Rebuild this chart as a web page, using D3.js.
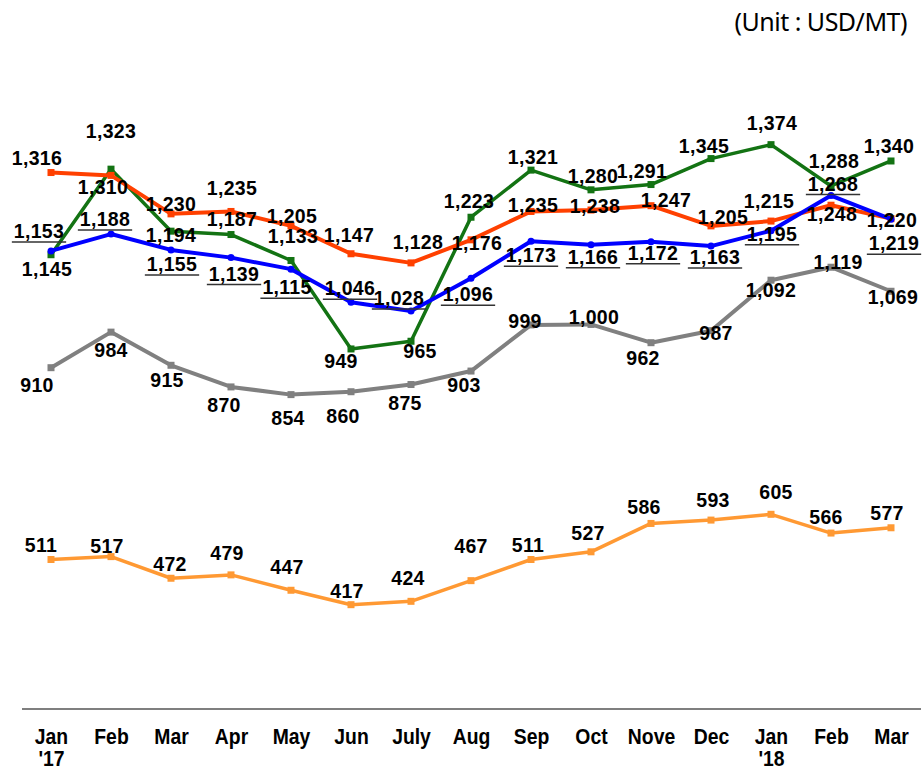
<!DOCTYPE html>
<html>
<head>
<meta charset="utf-8">
<script src="https://cdn.jsdelivr.net/npm/d3@7/dist/d3.min.js"></script>
<style>
  body { margin: 0; background: #fff; }
  .lbl { font-family: "Liberation Sans", Arial, sans-serif; font-weight: bold; font-size: 19.5px; letter-spacing: 0.3px; fill: #000; }
  .tick { font-family: "Liberation Sans", Arial, sans-serif; font-weight: bold; font-size: 22px; fill: #000; }
  .unit { font-family: "Noto Sans", "Open Sans", sans-serif; font-size: 25px; letter-spacing: -0.5px; fill: #000; }
</style>
</head>
<body>
<svg id="chart" width="923" height="770"></svg>
<script>
// months on the x axis
var months = ["Jan", "Feb", "Mar", "Apr", "May", "Jun", "July", "Aug", "Sep", "Oct", "Nove", "Dec", "Jan", "Feb", "Mar"];
var years = ["'17", "", "", "", "", "", "", "", "", "", "", "", "'18", "", ""];

// values, USD/MT
var redVals    = [1316, 1310, 1230, 1235, 1205, 1147, 1128, 1176, 1235, 1238, 1247, 1205, 1215, 1248, 1220];
var blueVals   = [1153, 1188, 1155, 1139, 1115, 1046, 1028, 1096, 1173, 1166, 1172, 1163, 1195, 1268, 1219];
var greenVals  = [1145, 1323, 1194, 1187, 1133, 949, 965, 1223, 1321, 1280, 1291, 1345, 1374, 1288, 1340];
var grayVals   = [910, 984, 915, 870, 854, 860, 875, 903, 999, 1000, 962, 987, 1092, 1119, 1069];
var orangeVals = [511, 517, 472, 479, 447, 417, 424, 467, 511, 527, 586, 593, 605, 566, 577];

// where each value label sits relative to its point (label centre, px)
var redShift    = [[-14,-15],[-8,12],[0,-10],[1,-23],[1,-10],[-2,-19],[7,-21],[6,3],[2,-6],[4,-4],[15,-6],[12,-9],[-2,-20],[1,9],[1,1]];
var blueShift   = [[-12,-20],[-6,-15],[1,14],[3,16],[-4,18],[-1,-14],[-12,-13],[-3,16],[0,14],[2,12],[2,11],[4,11],[1,3],[2,-12],[3,24]];
var greenShift  = [[-4,14],[0,-38],[0,4],[1,-16],[2,-24],[-10,12],[9,10],[-2,-16],[2,-13],[2,-14],[-9,-14],[-7,-13],[1,-22],[3,-25],[-2,-15]];
var grayShift   = [[-14,17],[0,18],[-4,15],[-7,18],[-3,23],[-8,24],[-6,18],[-7,14],[-6,-4],[3,-7],[-8,15],[5,2],[0,10],[7,-5],[2,6]];
var orangeShift = [[-10,-14],[-4,-11],[-1,-14],[-4,-22],[-4,-23],[-4,-14],[-3,-23],[0,-35],[-3,-14],[-3,-19],[-7,-16],[2,-20],[5,-22],[-5,-16],[-4,-15]];

var series = [
  {vals: grayVals,   shift: grayShift,   color: "#808080", width: 4,   marker: "square", size: 7},
  {vals: orangeVals, shift: orangeShift, color: "#FF9933", width: 3.5, marker: "square", size: 7},
  {vals: greenVals,  shift: greenShift,  color: "#137313", width: 3.5, marker: "square", size: 7},
  {vals: redVals,    shift: redShift,    color: "#FF4000", width: 4,   marker: "square", size: 7},
  {vals: blueVals,   shift: blueShift,   color: "#0000FF", width: 4,   marker: "circle", size: 7, underline: true}
];

var svg = d3.select("#chart");

var x = d3.scalePoint()
  .domain(d3.range(months.length))
  .range([51, 891]);

var y = d3.scaleLinear()
  .domain([200, 1600])
  .range([709, 36]);

// unit note
svg.append("text")
  .attr("class", "unit")
  .attr("x", 907)
  .attr("y", 31)
  .attr("text-anchor", "end")
  .text("(Unit : USD/MT)");

// x axis
var xAxis = d3.axisBottom(x).tickSize(0).tickFormat("");
var ax = svg.append("g")
  .attr("transform", "translate(0,709)")
  .call(xAxis);
ax.select(".domain").remove();
ax.append("line")
  .attr("x1", 22).attr("x2", 921)
  .attr("stroke", "#7f7f7f").attr("stroke-width", 2);

ax.selectAll(".tick").each(function(d) {
  var t = d3.select(this).append("text")
    .attr("class", "tick")
    .attr("text-anchor", "middle")
    .attr("transform", "scale(0.88,1)");
  t.append("tspan").attr("x", 0).attr("y", 35).text(months[d]);
  if (years[d]) t.append("tspan").attr("x", 0).attr("y", 57).text(years[d]);
});

var line = d3.line()
  .x(function(d, i) { return x(i); })
  .y(function(d) { return y(d); });

series.forEach(function(s) {
  var g = svg.append("g");
  g.append("path")
    .attr("d", line(s.vals))
    .attr("fill", "none")
    .attr("stroke", s.color)
    .attr("stroke-width", s.width)
    .attr("stroke-linejoin", "round");

  if (s.marker === "square") {
    g.selectAll("rect").data(s.vals).enter().append("rect")
      .attr("x", function(d, i) { return x(i) - s.size / 2; })
      .attr("y", function(d) { return y(d) - s.size / 2; })
      .attr("width", s.size)
      .attr("height", s.size)
      .attr("fill", s.color);
  } else {
    g.selectAll("circle").data(s.vals).enter().append("circle")
      .attr("cx", function(d, i) { return x(i); })
      .attr("cy", function(d) { return y(d); })
      .attr("r", s.size / 2)
      .attr("fill", s.color);
  }
});

// value labels on top
var fmt = d3.format(",");
series.forEach(function(s) {
  var g = svg.append("g");
  s.vals.forEach(function(v, i) {
    var cx = x(i) + s.shift[i][0];
    var cy = y(v) + s.shift[i][1];
    var t = g.append("text")
      .attr("class", "lbl")
      .attr("x", cx)
      .attr("y", cy + 7)
      .attr("text-anchor", "middle")
      .text(fmt(v));
    if (s.underline) {
      var w = t.node().getComputedTextLength();
      g.append("line")
        .attr("x1", cx - w / 2 - 2)
        .attr("x2", cx + w / 2 + 2)
        .attr("y1", cy + 11)
        .attr("y2", cy + 11)
        .attr("stroke", "#333")
        .attr("stroke-width", 1.5);
    }
  });
});
</script>
</body>
</html>
